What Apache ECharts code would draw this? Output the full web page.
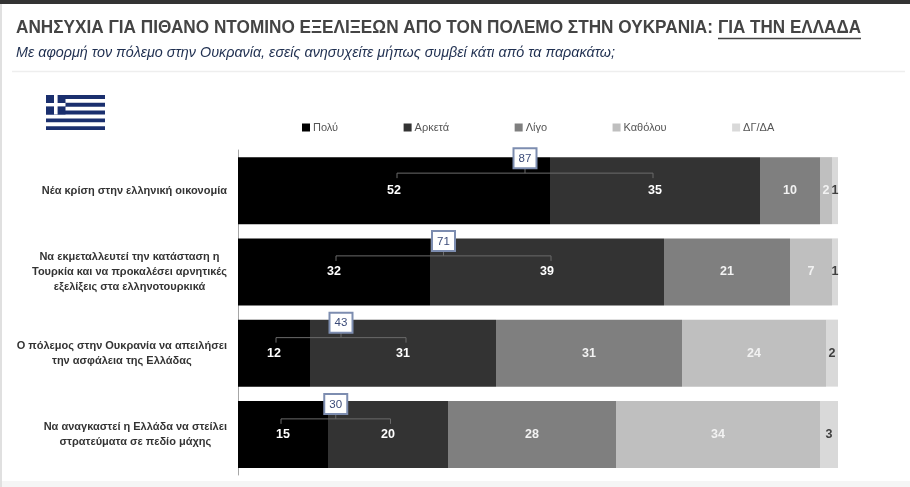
<!DOCTYPE html>
<html><head><meta charset="utf-8">
<style>html,body{margin:0;padding:0;background:#fff}#c{width:910px;height:487px}</style>
<script src="https://cdn.jsdelivr.net/npm/echarts@6/dist/echarts.min.js"></script>
</head><body><div id="c"></div>
<script>
const categories = [
  'Νέα κρίση στην ελληνική οικονομία',
  'Να εκμεταλλευτεί την κατάσταση η\nΤουρκία και να προκαλέσει αρνητικές\nεξελίξεις στα ελληνοτουρκικά',
  'Ο πόλεμος στην Ουκρανία να απειλήσει\nτην ασφάλεια της Ελλάδας',
  'Να αναγκαστεί η Ελλάδα να στείλει\nστρατεύματα σε πεδίο μάχης'
];
const names = ['Πολύ','Αρκετά','Λίγο','Καθόλου','ΔΓ/ΔΑ'];
const poly = [52,32,12,15];
const arketa = [35,39,31,20];
const ligo = [10,21,31,28];
const katholou = [2,7,24,34];
const dkda = [1,1,2,3];
const totals = [87,71,43,30];
const colors = ['#000000','#333333','#7f7f7f','#bfbfbf','#d9d9d9'];
const labelColors = ['#fff','#fff','#f2f2f2','#f2f2f2','#404040'];
const title = 'ΑΝΗΣΥΧΙΑ ΓΙΑ ΠΙΘΑΝΟ ΝΤΟΜΙΝΟ ΕΞΕΛΙΞΕΩΝ ΑΠΟ ΤΟΝ ΠΟΛΕΜΟ ΣΤΗΝ ΟΥΚΡΑΝΙΑ:';
const titleU = 'ΓΙΑ ΤΗΝ ΕΛΛΑΔΑ';
const subtitle = 'Με αφορμή τον πόλεμο στην Ουκρανία, εσείς ανησυχείτε μήπως συμβεί κάτι από τα παρακάτω;';

const FONT = '"Liberation Sans", Arial, sans-serif';
const chart = echarts.init(document.getElementById('c'));
const stack = [poly,arketa,ligo,katholou,dkda].map((d,i)=>({
  name:names[i], type:'bar', stack:'a', data:d, barWidth:67,
  itemStyle:{color:colors[i]},
  label:{show:true,position:'inside',color:labelColors[i],fontFamily:FONT,fontWeight:'bold',fontSize:12.5}
}));

// hand-placed bracket nudges of the source slide: [left px, right px, height above bar centre]
const nudge = [[3,-2,17.5],[2,4,16],[2,3,15.5],[-2,2.5,15.5]];
function bracket(params, api){
  const i = api.value(0), p = api.value(1), a = api.value(2), tot = api.value(3);
  const yc = api.coord([0,i])[1], n = nudge[i];
  const xl = api.coord([p/2,i])[0] + n[0];
  const xr = api.coord([p + a/2,i])[0] + n[1];
  const xm = (xl+xr)/2, yb = yc - n[2], st = {stroke:'#6b6b6b',lineWidth:1,fill:null};
  return {type:'group',children:[
    {type:'polyline',shape:{points:[[xl,yb+5],[xl,yb],[xr,yb],[xr,yb+5]]},style:st},
    {type:'line',shape:{x1:xm,y1:yb,x2:xm,y2:yb-5},style:st},
    {type:'rect',shape:{x:xm-11.5,y:yb-25,width:23,height:20},style:{fill:'#fff',stroke:'#7d8db0',lineWidth:2}},
    {type:'text',style:{x:xm,y:yb-14.5,text:String(tot),align:'center',verticalAlign:'middle',fill:'#3a4a78',font:'11.5px '+FONT}}
  ]};
}

function fit(text,font,x,y,w,fill,right){
  const c = document.createElement('canvas').getContext('2d'); c.font = font;
  const s = w / c.measureText(text).width;
  return {type:'text',x:x,y:y,scaleX:s,style:{x:0,y:0,text:text,align:right?'right':'left',verticalAlign:'middle',fill:fill,font:font}};
}

const flagBlue = '#1a2f6e';
const flag = [];
for(let s=0;s<9;s+=2) flag.push({type:'rect',shape:{x:46,y:95+s*3.9,width:59,height:3.9},style:{fill:flagBlue}});
flag.push({type:'rect',shape:{x:46,y:95,width:19.5,height:19.5},style:{fill:flagBlue}});
flag.push({type:'rect',shape:{x:54,y:95,width:3.6,height:19.5},style:{fill:'#fff'}});
flag.push({type:'rect',shape:{x:46,y:103,width:19.5,height:3.4},style:{fill:'#fff'}});

chart.setOption({
  animation:false,
  backgroundColor:'#fff',
  textStyle:{fontFamily:FONT},
  legend:{data:names,left:297,top:117,itemWidth:8,itemHeight:8,itemGap:65.5,icon:'rect',
    textStyle:{fontSize:11,color:'#555',fontFamily:FONT,padding:[0,0,0,-2]}},
  grid:{left:238,right:72,top:150,bottom:12},
  xAxis:{type:'value',min:0,max:100,show:false},
  yAxis:{type:'category',inverse:true,data:categories,
    axisLine:{show:true,lineStyle:{color:'#a6a6a6',width:1}},axisTick:{show:false},
    axisLabel:{margin:11,align:'right',fontFamily:FONT,fontWeight:'bold',fontSize:11,lineHeight:15,color:'#333',
      formatter:v=>v.split('\n').map(l=>'{c|'+l+'}').join('\n'),
      rich:{c:{align:'center',fontFamily:FONT,fontWeight:'bold',fontSize:11,lineHeight:15,color:'#333'}}}},
  series:[...stack,{type:'custom',z:10,renderItem:bracket,silent:true,
    data:poly.map((p,i)=>[i,p,arketa[i],totals[i]]),encode:{x:1,y:0}}],
  graphic:[
    {type:'rect',shape:{x:0,y:0,width:910,height:4},style:{fill:'#333'}},
    {type:'rect',shape:{x:0,y:4,width:2,height:483},style:{fill:'#e0e0e0'}},
    fit(title,'bold 19px '+FONT,16,28,697,'#444444'),
    fit(titleU,'bold 19px '+FONT,861,28,143,'#444444',true),
    {type:'line',shape:{x1:718,y1:38.5,x2:861,y2:38.5},style:{stroke:'#444444',lineWidth:1.5}},
    fit(subtitle,'italic 14px '+FONT,16,53,599,'#1f2f50'),
    {type:'line',shape:{x1:12,y1:71.5,x2:905,y2:71.5},style:{stroke:'#eeeeee',lineWidth:1.5}},
    ...flag,
    {type:'rect',shape:{x:2,y:481,width:908,height:6},style:{fill:'#f5f5f5'}}
  ]
});
</script></body></html>
